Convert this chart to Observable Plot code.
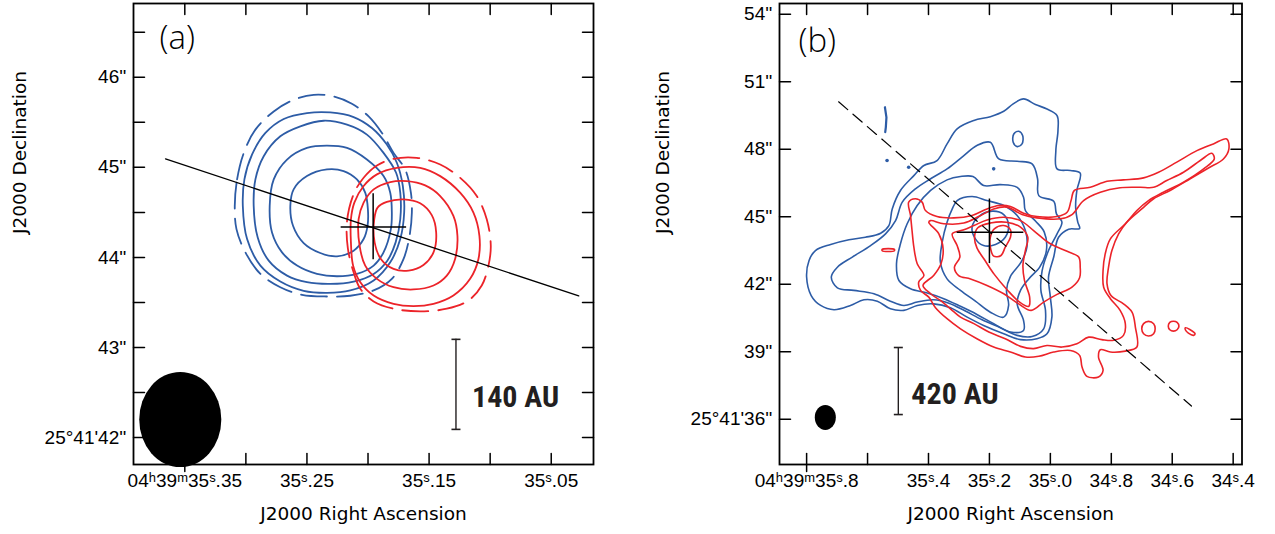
<!DOCTYPE html>
<html>
<head>
<meta charset="utf-8">
<script src="https://cdn.jsdelivr.net/npm/d3@7"></script>
<script src="https://cdn.jsdelivr.net/npm/@observablehq/plot@0.6"></script>
<style>
html, body { margin: 0; padding: 0; background: #fff; }
#wrap { display: flex; width: 1275px; height: 534px; overflow: hidden; }
#wrap svg { overflow: visible; flex: none; max-width: none !important; }
</style>
</head>
<body>
<div id="wrap"></div>
<script>
// ---------------- Panel (a) data : RA seconds (04h39m..s), Dec arcsec (25°41'..") ----------------
const aRADomain = [35.392, 35.0154];
const aDecDomain = [41.70, 46.82];
const aRATicks = [35.35, 35.30, 35.25, 35.20, 35.15, 35.10, 35.05];
const aRALabelTicks = [35.35, 35.25, 35.15, 35.05];
const aRALabels = ["04ʰ39ᵐ35ˢ.35", "35ˢ.25", "35ˢ.15", "35ˢ.05"];
const aDecTicks = [42, 42.5, 43, 43.5, 44, 44.5, 45, 45.5, 46, 46.5];
const aDecLabelTicks = [42, 43, 44, 45, 46];
const aDecLabels = ["25°41'42''", "43''", "44''", "45''", "46''"];

// blueshifted contours (outermost dashed first)
const aBlue1 = [[35.3091,44.572],[35.3072,44.866],[35.3017,45.161],[35.2922,45.419],[35.2772,45.621],[35.2622,45.743],[35.2445,45.806],[35.2281,45.787],[35.2132,45.706],[35.1995,45.566],[35.1886,45.382],[35.1791,45.161],[35.1696,44.977],[35.1649,44.719],[35.1641,44.498],[35.166,44.240],[35.1709,43.983],[35.1805,43.762],[35.1954,43.633],[35.2145,43.574],[35.2336,43.566],[35.254,43.585],[35.2718,43.669],[35.2881,43.817],[35.3004,44.056],[35.3077,44.314]];
const aBlue2 = [[35.3025,44.572],[35.3012,44.866],[35.2949,45.143],[35.2840,45.382],[35.2690,45.537],[35.2500,45.603],[35.2309,45.610],[35.2118,45.559],[35.1968,45.437],[35.1846,45.253],[35.1764,45.051],[35.1715,44.793],[35.1704,44.498],[35.1736,44.204],[35.1818,43.946],[35.1954,43.744],[35.2145,43.633],[35.2336,43.607],[35.2527,43.629],[35.2718,43.732],[35.2881,43.909],[35.2990,44.204]];
const aBlue3 = [[35.2936,44.572],[35.2922,44.866],[35.2854,45.124],[35.2718,45.345],[35.2554,45.456],[35.2363,45.518],[35.2172,45.474],[35.2009,45.364],[35.1873,45.161],[35.1770,44.940],[35.1736,44.719],[35.1736,44.424],[35.1774,44.167],[35.1842,43.964],[35.1954,43.817],[35.2118,43.732],[35.2309,43.706],[35.2500,43.725],[35.2663,43.798],[35.2813,43.964],[35.2903,44.222]];
const aBlue4 = [[35.2805,44.572],[35.2772,44.866],[35.2663,45.087],[35.2500,45.216],[35.2336,45.242],[35.2172,45.216],[35.2009,45.087],[35.1873,44.903],[35.1818,44.719],[35.1805,44.498],[35.1813,44.314],[35.1873,44.056],[35.1954,43.909],[35.2091,43.817],[35.2254,43.791],[35.2418,43.817],[35.2581,43.909],[35.2704,44.056],[35.2786,44.277]];
const aBlue5 = [[35.2636,44.572],[35.2609,44.756],[35.2500,44.903],[35.2336,44.977],[35.2200,44.959],[35.2091,44.866],[35.2023,44.719],[35.2001,44.535],[35.2004,44.351],[35.2036,44.204],[35.2118,44.075],[35.2254,44.012],[35.2391,44.049],[35.2527,44.159],[35.2614,44.351]];
// redshifted contours (outermost dashed first)
const aRed1 = [[35.2118,44.701],[35.2036,44.885],[35.1927,45.021],[35.1791,45.095],[35.1600,45.106],[35.1409,45.032],[35.1246,44.885],[35.1110,44.682],[35.1028,44.424],[35.0995,44.130],[35.1014,43.909],[35.1069,43.688],[35.1178,43.522],[35.1355,43.430],[35.1573,43.401],[35.1791,43.430],[35.1954,43.511],[35.2063,43.651],[35.2118,43.835],[35.2165,44.100],[35.2172,44.400]];
const aRed2 = [[35.2140,44.424],[35.2112,44.609],[35.2036,44.793],[35.1927,44.922],[35.1764,44.995],[35.1573,44.995],[35.1409,44.903],[35.1246,44.719],[35.1137,44.498],[35.1088,44.240],[35.1096,43.983],[35.1164,43.762],[35.1301,43.577],[35.1464,43.485],[35.1628,43.460],[35.1791,43.485],[35.1954,43.577],[35.2063,43.725],[35.2122,43.909],[35.2140,44.167]];
const aRed3 = [[35.2077,44.424],[35.2036,44.609],[35.1954,44.756],[35.1818,44.837],[35.1682,44.848],[35.1532,44.800],[35.1409,44.682],[35.1301,44.461],[35.1268,44.240],[35.1287,43.983],[35.1355,43.798],[35.1464,43.688],[35.1628,43.644],[35.1791,43.669],[35.1927,43.762],[35.2023,43.909],[35.2069,44.130]];
const aRed4 = [[35.1949,44.424],[35.1922,44.553],[35.1846,44.616],[35.1709,44.645],[35.1573,44.601],[35.1478,44.469],[35.1442,44.277],[35.1464,44.056],[35.1546,43.916],[35.1668,43.854],[35.1791,43.872],[35.1895,43.983],[35.1946,44.167]];
const aOutflowAxis = [[35.3658,45.094],[35.0275,43.572]];
const aSource = {ra: 35.1958, dec: 44.339, ra1: 35.222, ra2: 35.1684, dec1: 43.974, dec2: 44.708};
const aBeam = {ra: 35.3533, dec: 42.194, semiRA: 0.0336, semiDec: 0.528};
const aBar = {ra: 35.128, dec1: 42.09, dec2: 43.09, label: "140 AU"};

// ---------------- Panel (b) data ----------------
const bRADomain = [35.889, 34.371];
const bDecDomain = [33.99, 54.48];
const bRATicks = [35.8, 35.6, 35.4, 35.2, 35.0, 34.8, 34.6, 34.4];
const bRALabelTicks = [35.8, 35.4, 35.2, 35.0, 34.8, 34.6, 34.4];
const bRALabels = ["04ʰ39ᵐ35ˢ.8", "35ˢ.4", "35ˢ.2", "35ˢ.0", "34ˢ.8", "34ˢ.6", "34ˢ.4"];
const bDecTicks = [36, 39, 42, 45, 48, 51, 54];
const bDecLabels = ["25°41'36''", "39''", "42''", "45''", "48''", "51''", "54''"];

const bBlue1 = [[35.088,50.24],[35.049,49.99],[35.011,49.79],[34.978,49.50],[34.975,48.83],[34.982,47.94],[34.978,47.13],[34.934,47.06],[34.902,46.94],[34.913,46.17],[34.917,45.43],[34.910,44.76],[34.904,44.48],[34.940,44.45],[34.973,44.09],[34.989,43.21],[35.006,42.32],[35.000,41.43],[34.995,40.54],[35.011,39.80],[35.044,39.58],[35.098,39.54],[35.153,39.80],[35.219,40.17],[35.273,40.54],[35.328,40.96],[35.383,41.13],[35.437,41.06],[35.481,40.84],[35.525,40.91],[35.568,41.25],[35.612,41.31],[35.656,41.06],[35.710,40.87],[35.754,41.06],[35.785,41.50],[35.800,42.32],[35.792,43.06],[35.771,43.50],[35.721,43.77],[35.661,43.98],[35.607,44.09],[35.557,44.27],[35.530,44.61],[35.519,45.35],[35.492,46.17],[35.448,46.83],[35.415,47.28],[35.372,47.50],[35.339,48.24],[35.306,48.91],[35.251,49.28],[35.197,49.45],[35.153,49.69],[35.122,50.02]];
const bBlue2 = [[35.197,48.31],[35.169,47.57],[35.109,47.47],[35.060,47.35],[35.042,46.69],[35.038,45.94],[34.989,45.69],[34.980,45.13],[34.962,44.76],[34.978,44.24],[35.006,43.50],[35.027,42.61],[35.031,41.73],[35.016,40.84],[35.022,40.02],[35.060,39.68],[35.109,39.73],[35.164,40.07],[35.224,40.42],[35.279,40.81],[35.333,41.16],[35.383,41.31],[35.437,41.21],[35.481,41.06],[35.525,41.25],[35.579,41.58],[35.645,41.73],[35.699,41.84],[35.719,42.32],[35.699,42.76],[35.650,43.21],[35.590,43.72],[35.541,44.24],[35.508,44.83],[35.486,45.65],[35.443,46.24],[35.393,46.69],[35.339,47.13],[35.284,47.72],[35.241,48.17]];
const bBlue3 = [[35.393,46.17],[35.339,46.64],[35.295,46.79],[35.254,46.79],[35.219,46.39],[35.164,46.43],[35.109,46.31],[35.088,45.87],[35.082,45.28],[35.049,44.81],[35.020,44.32],[35.013,43.50],[35.035,42.76],[35.071,42.24],[35.098,41.73],[35.109,41.13],[35.088,40.39],[35.088,39.95],[35.131,39.88],[35.186,40.25],[35.241,40.66],[35.295,41.02],[35.350,41.36],[35.404,41.61],[35.459,41.80],[35.497,42.17],[35.505,42.91],[35.492,43.80],[35.470,44.69],[35.437,45.50]];
const bBlue4 = [[35.306,45.72],[35.257,45.90],[35.208,45.72],[35.153,45.50],[35.109,45.06],[35.082,44.39],[35.077,43.65],[35.096,42.98],[35.131,42.35],[35.144,41.73],[35.137,41.06],[35.153,40.54],[35.197,40.76],[35.246,41.25],[35.295,41.73],[35.339,42.24],[35.361,42.98],[35.355,43.87],[35.339,44.76],[35.322,45.35]];
const bBlue5 = [[35.257,44.54],[35.235,45.01],[35.191,45.25],[35.153,45.10],[35.137,44.61],[35.148,44.09],[35.180,43.77],[35.219,43.72],[35.246,44.02]];
const bBlueIsland = [[35.120,48.68],[35.104,48.80],[35.091,48.61],[35.093,48.24],[35.109,48.12],[35.122,48.31]];
const bBluePiece = [[35.543,49.87],[35.538,49.42],[35.540,48.98],[35.542,48.76]];
const bBlueSpecks = [[35.536,47.50],[35.186,47.13],[35.465,47.20]];

const bRed1 = [[35.465,45.65],[35.443,45.80],[35.421,45.65],[35.410,45.28],[35.372,45.01],[35.317,44.95],[35.257,45.06],[35.208,45.35],[35.169,45.50],[35.131,45.46],[35.088,45.16],[35.044,45.01],[34.978,45.01],[34.945,45.20],[34.932,45.72],[34.921,46.17],[34.869,46.31],[34.814,46.58],[34.760,46.64],[34.694,46.73],[34.645,46.98],[34.585,47.43],[34.519,47.94],[34.465,48.24],[34.421,48.46],[34.414,48.02],[34.432,47.57],[34.481,47.17],[34.541,46.69],[34.607,46.17],[34.661,45.80],[34.700,45.35],[34.749,44.76],[34.776,44.24],[34.798,43.50],[34.809,42.76],[34.814,42.02],[34.801,41.50],[34.760,41.13],[34.732,40.76],[34.721,40.10],[34.716,39.21],[34.754,39.03],[34.803,38.99],[34.836,39.09],[34.842,38.77],[34.827,38.17],[34.842,37.88],[34.880,37.91],[34.896,38.32],[34.904,38.84],[34.934,39.06],[34.989,38.99],[35.038,38.80],[35.082,38.77],[35.131,38.99],[35.186,39.21],[35.241,39.58],[35.295,40.02],[35.339,40.47],[35.377,40.96],[35.399,41.43],[35.426,41.73],[35.432,42.10],[35.415,42.39],[35.437,42.91],[35.448,43.65],[35.454,44.39],[35.459,45.06]];
const bRed2 = [[35.393,44.83],[35.350,44.69],[35.284,44.72],[35.235,45.01],[35.186,45.35],[35.142,45.43],[35.093,45.10],[35.044,44.95],[34.967,44.91],[34.929,45.10],[34.891,45.72],[34.836,46.09],[34.771,46.29],[34.705,46.31],[34.661,46.31],[34.618,46.61],[34.563,46.98],[34.508,47.50],[34.470,47.82],[34.462,47.57],[34.497,47.13],[34.563,46.54],[34.629,46.09],[34.678,45.72],[34.716,45.28],[34.754,44.69],[34.803,44.02],[34.820,43.35],[34.827,42.61],[34.825,41.87],[34.803,41.36],[34.771,40.84],[34.754,40.25],[34.760,39.73],[34.792,39.51],[34.831,39.54],[34.874,39.65],[34.913,39.36],[34.962,39.21],[35.011,39.28],[35.055,39.14],[35.098,39.24],[35.148,39.58],[35.202,39.88],[35.251,40.25],[35.295,40.54],[35.328,40.91],[35.361,41.28],[35.393,41.58],[35.418,41.95],[35.383,42.39],[35.359,42.91],[35.352,43.58],[35.366,44.24],[35.399,44.76]];
const bRed3 = [[35.322,44.24],[35.284,44.42],[35.251,44.61],[35.208,44.86],[35.153,44.98],[35.098,44.83],[35.055,44.39],[35.000,43.80],[34.945,43.47],[34.907,43.21],[34.902,42.76],[34.904,42.29],[34.929,41.87],[34.978,41.55],[35.022,41.21],[35.063,40.84],[35.104,41.13],[35.153,41.58],[35.208,41.95],[35.262,42.24],[35.301,42.39],[35.315,42.76],[35.297,43.21],[35.306,43.72]];
const bRed4 = [[35.249,44.09],[35.238,44.51],[35.197,44.72],[35.144,44.76],[35.098,44.54],[35.074,44.09],[35.082,43.50],[35.090,42.84],[35.085,42.17],[35.068,41.43],[35.071,41.02],[35.101,41.21],[35.142,41.76],[35.184,42.44],[35.216,43.09],[35.241,43.62]];
const bRed5 = [[35.197,44.09],[35.184,44.46],[35.153,44.61],[35.131,44.42],[35.131,44.09],[35.148,43.65],[35.162,43.28],[35.186,43.25],[35.197,43.65]];
const bRedLoop1 = [[34.700,40.02],[34.694,40.25],[34.678,40.35],[34.661,40.25],[34.656,40.02],[34.661,39.80],[34.678,39.70],[34.694,39.80]];
const bRedLoop2 = [[34.613,40.14],[34.608,40.31],[34.596,40.36],[34.584,40.31],[34.578,40.14],[34.584,39.98],[34.596,39.92],[34.608,39.98]];
const bRedLoop3 = [[34.557,40.07],[34.541,39.98],[34.525,39.80],[34.530,39.73],[34.547,39.83],[34.557,39.98]];
const bRedBit = [[35.552,43.55],[35.512,43.55],[35.512,43.49],[35.552,43.49]];
const bOutflowAxis = [[35.695,50.11],[34.537,36.59]];
const bSource = {ra: 35.200, dec: 44.31, ra1: 35.306, ra2: 35.087, dec1: 42.92, dec2: 45.79};
const bBeam = {ra: 35.737, dec: 36.06, semiRA: 0.0345, semiDec: 0.556};
const bBar = {ra: 35.499, dec1: 36.21, dec2: 39.19, label: "420 AU"};

// ---------------- helpers & styles ----------------
const BLUE = "#2d5ca6", RED = "#ec2329", INK = "#231f20";
const TICKFONT = "'Liberation Sans', Arial, sans-serif";
const TITLEFONT = "'DejaVu Sans', 'Liberation Sans', sans-serif";
const BARFONT = "'Liberation Sans Narrow', 'Roboto Condensed', Roboto, sans-serif";
const rows = (groups) => groups.flatMap(([id, pts]) => pts.map(([ra, dec]) => ({id, ra, dec})));
const lookup = (ticks, labels) => (d) => {
  const i = ticks.findIndex((t) => Math.abs(t - d) < 1e-9);
  return i < 0 ? "" : labels[i];
};
const hbar = {draw(ctx, size) { const r = Math.sqrt(size / Math.PI); ctx.moveTo(-r, 0); ctx.lineTo(r, 0); }};
const tickShape = {draw(ctx, l) { ctx.moveTo(0, 0); ctx.lineTo(0, -l); }};
const TICKLEN = 11;

function frameAxes(raTicks, decTicks, raLabelTicks, raLabels, decLabelTicks, decLabels) {
  const common = {length: TICKLEN, anchor: "start", shape: tickShape, stroke: "#000", strokeWidth: 1.5};
  return [
    // inward ticks on all four sides
    Plot.vector(raTicks, {x: (d) => d, frameAnchor: "bottom", rotate: 0, ...common}),
    Plot.vector(raTicks, {x: (d) => d, frameAnchor: "top", rotate: 180, ...common}),
    Plot.vector(decTicks, {y: (d) => d, frameAnchor: "left", rotate: 90, ...common}),
    Plot.vector(decTicks, {y: (d) => d, frameAnchor: "right", rotate: -90, ...common}),
    // the first labelled RA tick also pokes below the frame
    Plot.vector([raLabelTicks[0]], {x: (d) => d, frameAnchor: "bottom", rotate: 180, ...common, length: 7}),
    Plot.axisX({anchor: "bottom", ticks: raLabelTicks, tickSize: 0, tickPadding: 9, tickFormat: lookup(raLabelTicks, raLabels), label: null, fontSize: 19, fontFamily: TICKFONT}),
    Plot.axisY({anchor: "left", ticks: decLabelTicks, tickSize: 0, tickPadding: 7, tickFormat: lookup(decLabelTicks, decLabels), label: null, fontSize: 19, fontFamily: TICKFONT})
  ];
}

function titles(panelLabel, panelDx, panelDy, decDx) {
  return [
    Plot.text([panelLabel], {frameAnchor: "top-left", text: (d) => d, dx: panelDx, dy: panelDy, lineAnchor: "top", textAnchor: "start", fontSize: 33, fontWeight: 300, fontFamily: "'Open Sans', 'Noto Sans', sans-serif"}),
    Plot.text(["J2000 Right Ascension"], {frameAnchor: "bottom", text: (d) => d, dy: 55, fontSize: 18.5, fontFamily: TITLEFONT}),
    Plot.text(["J2000 Declination"], {frameAnchor: "left", text: (d) => d, rotate: -90, dx: decDx, fontSize: 18.5, fontFamily: TITLEFONT})
  ];
}

function barMarks(bar, dx) {
  const caps = [{ra: bar.ra, dec: bar.dec1}, {ra: bar.ra, dec: bar.dec2}];
  return [
    Plot.ruleX([bar], {x: "ra", y1: "dec1", y2: "dec2", stroke: INK, strokeWidth: 1.4}),
    Plot.dot(caps, {x: "ra", y: "dec", symbol: hbar, r: 4.5, stroke: INK, strokeWidth: 1.6, fill: "none"}),
    Plot.text([bar], {x: "ra", y: (d) => (d.dec1 + d.dec2) / 2, text: "label", textAnchor: "start", dx, dy: 13, fontSize: 30, fontWeight: "bold", fontFamily: BARFONT, fill: INK})
  ];
}

function crossMarks(src, w) {
  return [
    Plot.ruleY([src], {y: "dec", x1: "ra1", x2: "ra2", stroke: "#000", strokeWidth: w}),
    Plot.ruleX([src], {x: "ra", y1: "dec1", y2: "dec2", stroke: "#000", strokeWidth: w})
  ];
}

function addBeam(chart, beam) {
  const sx = chart.scale("x"), sy = chart.scale("y");
  const cx = sx.apply(beam.ra), cy = sy.apply(beam.dec);
  const rx = Math.abs(sx.apply(beam.ra + beam.semiRA) - cx);
  const ry = Math.abs(sy.apply(beam.dec + beam.semiDec) - cy);
  d3.select(chart).append("ellipse").attr("cx", cx).attr("cy", cy).attr("rx", rx).attr("ry", ry).attr("fill", "#000");
}

const baseStyle = {fontFamily: TICKFONT, fontSize: "19px", background: "#fff", overflow: "visible"};

// ---------------- Panel (a) ----------------
const chartA = Plot.plot({
  width: 640, height: 534,
  marginLeft: 133, marginRight: 47, marginTop: 3, marginBottom: 70,
  x: {domain: aRADomain}, y: {domain: aDecDomain},
  style: baseStyle,
  marks: [
    Plot.line(rows([["b1", aBlue1]]), {x: "ra", y: "dec", z: "id", stroke: BLUE, strokeWidth: 1.8, strokeDasharray: "26,10", curve: "catmull-rom-closed"}),
    Plot.line(rows([["b2", aBlue2], ["b3", aBlue3], ["b4", aBlue4], ["b5", aBlue5]]), {x: "ra", y: "dec", z: "id", stroke: BLUE, strokeWidth: 1.8, curve: "catmull-rom-closed"}),
    Plot.line(rows([["r1", aRed1]]), {x: "ra", y: "dec", z: "id", stroke: RED, strokeWidth: 1.8, strokeDasharray: "26,10", curve: "catmull-rom-closed"}),
    Plot.line(rows([["r2", aRed2], ["r3", aRed3], ["r4", aRed4]]), {x: "ra", y: "dec", z: "id", stroke: RED, strokeWidth: 1.8, curve: "catmull-rom-closed"}),
    Plot.line(rows([["pa", aOutflowAxis]]), {x: "ra", y: "dec", stroke: "#000", strokeWidth: 1.3}),
    ...crossMarks(aSource, 1.5),
    ...barMarks(aBar, 16),
    ...titles("(a)", 26, 22, -113),
    ...frameAxes(aRATicks, aDecTicks, aRALabelTicks, aRALabels, aDecLabelTicks, aDecLabels),
    Plot.frame({stroke: "#000", strokeWidth: 1.8})
  ]
});
addBeam(chartA, aBeam);

// ---------------- Panel (b) ----------------
const chartB = Plot.plot({
  width: 635, height: 534,
  marginLeft: 139, marginRight: 33.5, marginTop: 3, marginBottom: 70,
  x: {domain: bRADomain}, y: {domain: bDecDomain},
  style: baseStyle,
  marks: [
    Plot.line(rows([["b1", bBlue1], ["b2", bBlue2], ["b3", bBlue3], ["b4", bBlue4], ["b5", bBlue5], ["bi", bBlueIsland]]), {x: "ra", y: "dec", z: "id", stroke: BLUE, strokeWidth: 1.6, curve: "catmull-rom-closed"}),
    Plot.line(rows([["bp", bBluePiece]]), {x: "ra", y: "dec", stroke: BLUE, strokeWidth: 2.2}),
    Plot.dot(bBlueSpecks, {x: (d) => d[0], y: (d) => d[1], r: 1.8, fill: BLUE}),
    Plot.line(rows([["r1", bRed1], ["r2", bRed2], ["r3", bRed3], ["r4", bRed4], ["r5", bRed5], ["l1", bRedLoop1], ["l2", bRedLoop2], ["l3", bRedLoop3], ["rb", bRedBit]]), {x: "ra", y: "dec", z: "id", stroke: RED, strokeWidth: 1.6, curve: "catmull-rom-closed"}),
    Plot.line(rows([["pa", bOutflowAxis]]), {x: "ra", y: "dec", stroke: "#000", strokeWidth: 1.2, strokeDasharray: "12,7"}),
    ...crossMarks(bSource, 1.5),
    ...barMarks(bBar, 13),
    ...titles("(b)", 19, 25, -116),
    ...frameAxes(bRATicks, bDecTicks, bRALabelTicks, bRALabels, bDecTicks, bDecLabels),
    Plot.frame({stroke: "#000", strokeWidth: 1.8})
  ]
});
addBeam(chartB, bBeam);

document.getElementById("wrap").append(chartA, chartB);
</script>
</body>
</html>
